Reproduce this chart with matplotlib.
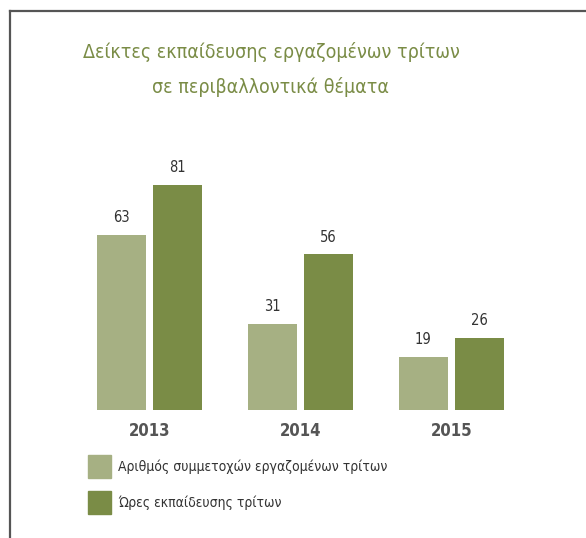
import matplotlib
matplotlib.use("Agg")
import matplotlib.pyplot as plt
from matplotlib.patches import Rectangle
from matplotlib.lines import Line2D

years = ["2013", "2014", "2015"]
participants = [63, 31, 19]
training_hours = [81, 56, 26]
series_labels = ["Αριθμός συμμετοχών εργαζομένων τρίτων", "Ώρες εκπαίδευσης τρίτων"]
title_lines = ["Δείκτες εκπαίδευσης εργαζομένων τρίτων", "σε περιβαλλοντικά θέματα"]

light = "#a6b083"
dark = "#7a8c46"
title_color = "#7a8c46"
FONT = dict(family="DejaVu Sans", stretch="condensed")

W, H = 586, 538
fig = plt.figure(figsize=(W / 100, H / 100), dpi=100)
fig.patch.set_facecolor("white")

def fx(px):
    return px / W

def fy(py):
    return 1 - py / H

# frame: top and left rules
fig.add_artist(Line2D([fx(10), fx(586)], [fy(11), fy(11)], color="#555555", lw=1.6))
fig.add_artist(Line2D([fx(10), fx(10)], [fy(11), fy(538)], color="#555555", lw=1.6))

# title
for i, line in enumerate(title_lines):
    fig.text(fx(271), fy(52 + 35 * i), line, ha="center", va="center",
             fontsize=14, color=title_color, **FONT)

# bars
ax = fig.add_axes([fx(74), fy(410), fx(527) - fx(74), (410 - 185) / H])
ax.set_xlim(-0.5, 2.5)
ax.set_ylim(0, max(training_hours))
ax.axis("off")
w = 0.325
off = 0.186
x = list(range(len(years)))
b1 = ax.bar([i - off for i in x], participants, width=w, color=light)
b2 = ax.bar([i + off for i in x], training_hours, width=w, color=dark)
for bars, vals in ((b1, participants), (b2, training_hours)):
    for bar, v in zip(bars, vals):
        ax.annotate(f"{v}", (bar.get_x() + bar.get_width() / 2, v),
                    xytext=(0, 7), textcoords="offset points",
                    ha="center", va="bottom", fontsize=10.5,
                    color="#333333", clip_on=False, **FONT)
for i, yr in enumerate(years):
    ax.annotate(yr, (i, 0), xytext=(0, -15), textcoords="offset points",
                ha="center", va="center", fontsize=12, fontweight="bold",
                color="#555555", annotation_clip=False, **FONT)

# legend
for j, (lab, col) in enumerate(zip(series_labels, (light, dark))):
    top = 455 + 36 * j
    fig.add_artist(Rectangle((fx(88), fy(top + 23)), fx(111) - fx(88), 23 / H,
                             transform=fig.transFigure, color=col))
    fig.text(fx(118), fy(top + 11.5), lab, ha="left", va="center",
             fontsize=10, color="#333333", **FONT)

fig.savefig("out.png", dpi=100, facecolor="white")
